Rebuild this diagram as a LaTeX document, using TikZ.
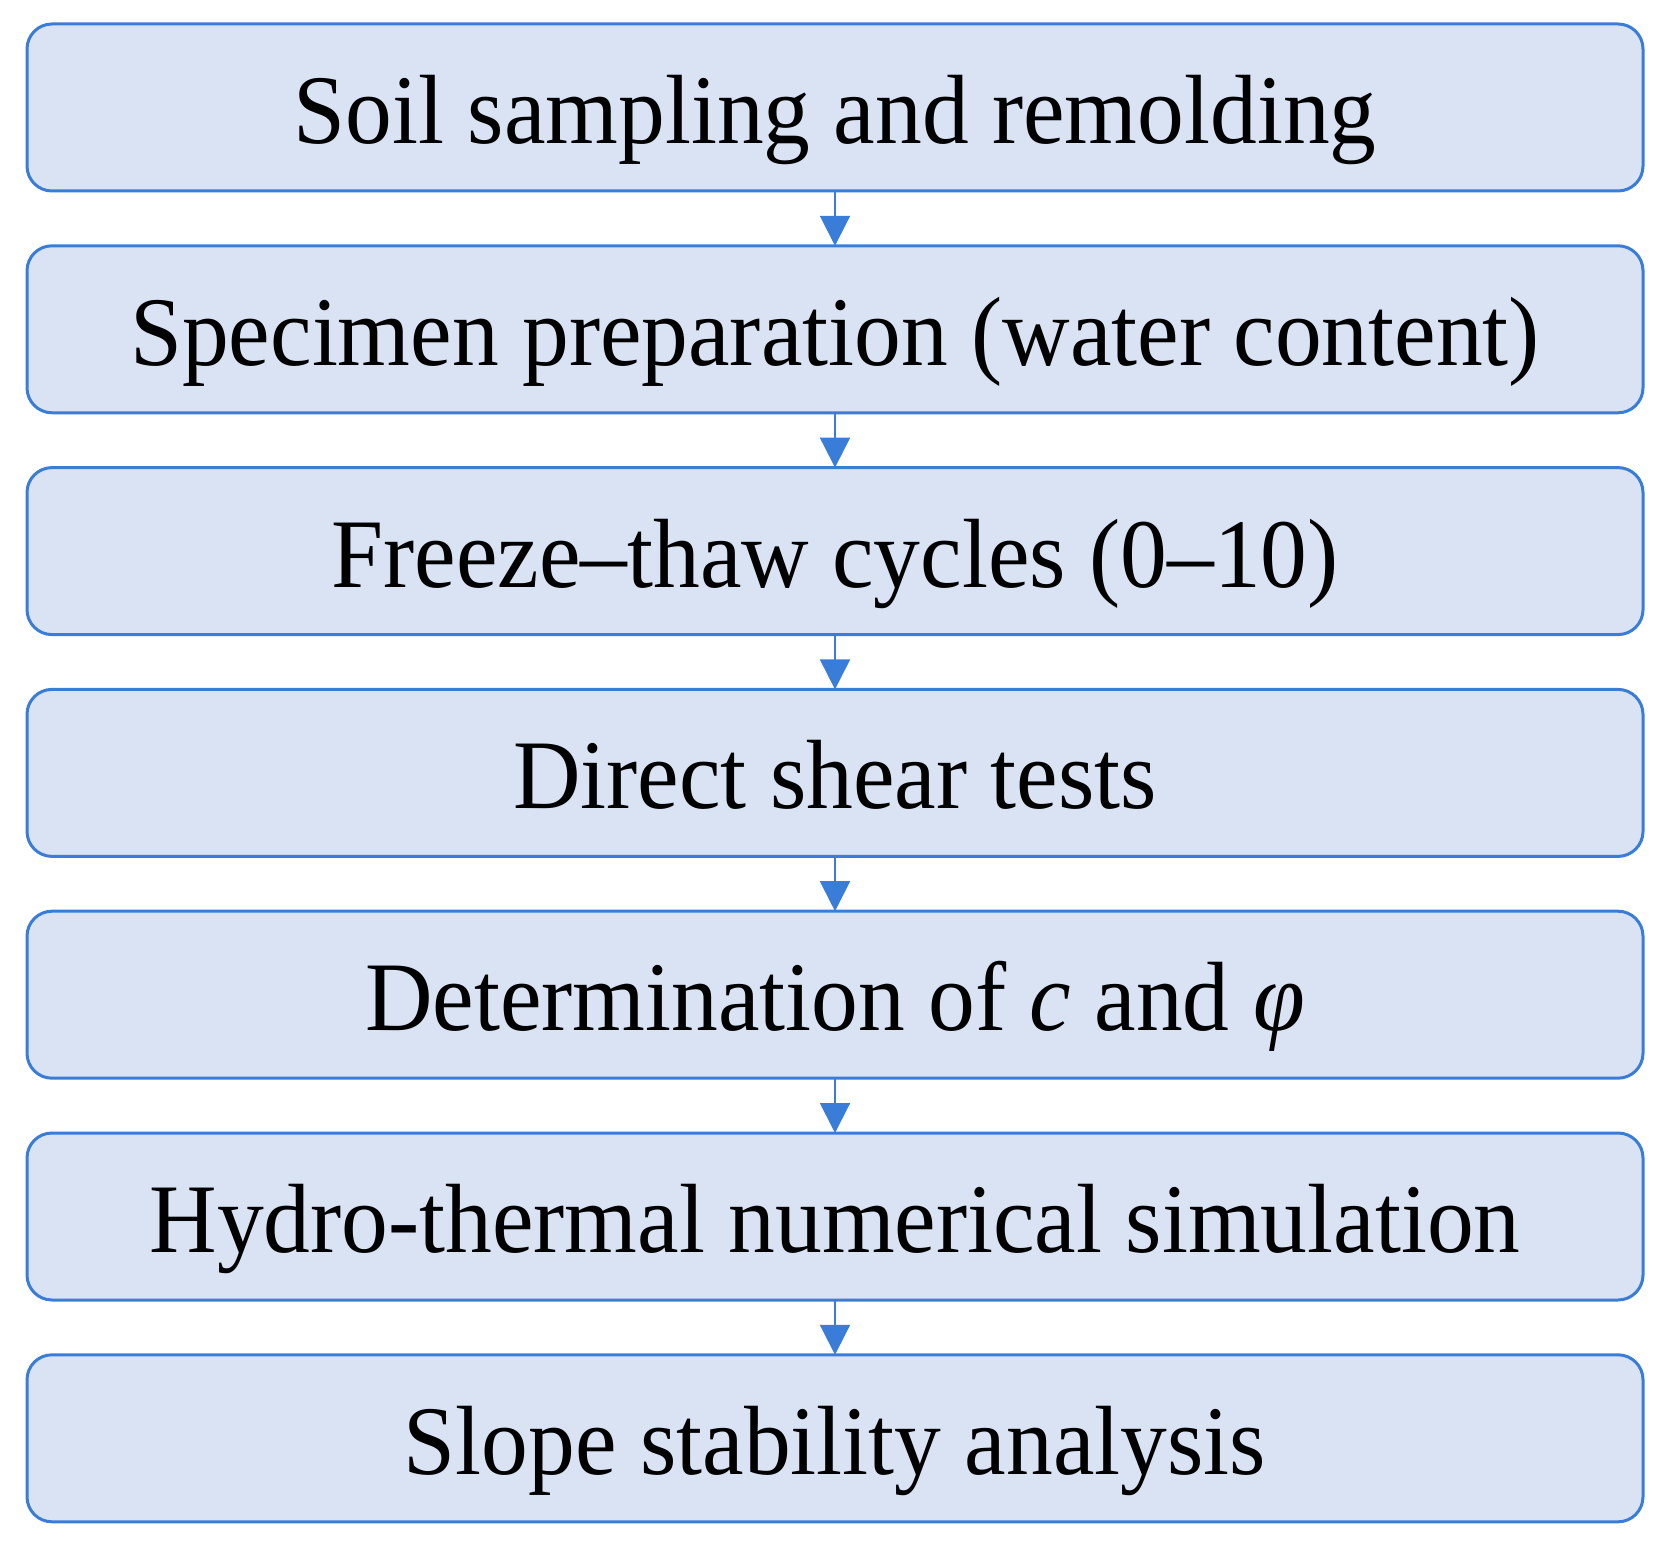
\documentclass[tikz,border=0pt]{standalone}
\usepackage{fontspec}
\setmainfont{Liberation Serif}
\usetikzlibrary{positioning, arrows.meta}
\definecolor{boxfill}{RGB}{218,227,243}
\definecolor{boxline}{RGB}{58,125,216}
\newcommand{\squeeze}[1]{\scalebox{0.95}[1]{#1}}

\begin{document}
\begin{tikzpicture}[
    stage/.style={draw=boxline, fill=boxfill, line width=0.03cm, rounded corners=0.25cm,
      minimum width=16.16cm, minimum height=1.67cm, inner sep=0pt, outer sep=0pt,
      text height=0.9cm, text depth=0.18cm, font=\fontsize{28}{31}\selectfont},
    flow/.style={draw=boxline, line width=0.02cm, -{Triangle[length=0.3cm, width=0.3cm]}}]
  \useasboundingbox (0,0) rectangle (16.63,-15.54);
  \node[stage] (soil) at (8.35,-1.075) {\squeeze{Soil sampling and remolding}};
  \node[stage, below=0.548cm of soil] (prep) {\squeeze{Specimen preparation (water content)}};
  \node[stage, below=0.548cm of prep] (ft) {\squeeze{Freeze–thaw cycles (0–10)}};
  \node[stage, below=0.548cm of ft] (shear) {\squeeze{Direct shear tests}};
  \node[stage, below=0.548cm of shear] (param) {\squeeze{Determination of \textit{c} and \textit{φ}}};
  \node[stage, below=0.548cm of param] (sim) {\squeeze{Hydro-thermal numerical simulation}};
  \node[stage, below=0.548cm of sim] (slope) {\squeeze{Slope stability analysis}};
  \foreach \a/\b in {soil/prep, prep/ft, ft/shear, shear/param, param/sim, sim/slope}
    \draw[flow] (\a) -- (\b);
\end{tikzpicture}
\end{document}
